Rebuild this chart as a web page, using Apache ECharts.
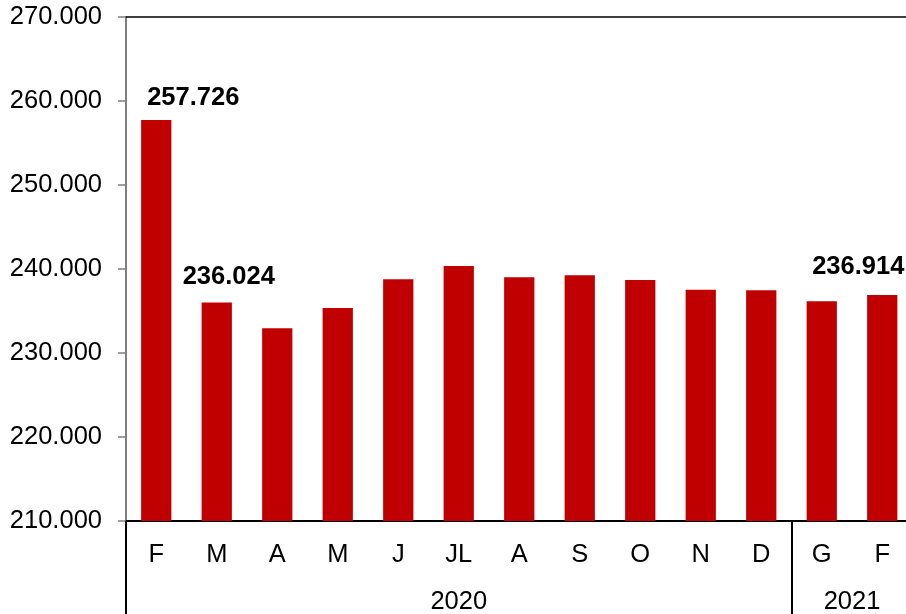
<!DOCTYPE html>
<html>
<head>
<meta charset="utf-8">
<script src="https://cdn.jsdelivr.net/npm/echarts@6/dist/echarts.min.js"></script>
<style>html,body{margin:0;padding:0;background:#fff}#c{width:906px;height:614px}</style>
</head>
<body>
<div id="c"></div>
<script>
const months = ['F','M','A','M','J','JL','A','S','O','N','D','G','F'];
const values = [257.726, 236.024, 232.94, 235.36, 238.77, 240.36, 239.01, 239.25, 238.69, 237.54, 237.46, 236.15, 236.914];
const yearLabels = {5.5: '2020', 12: '2021'};
const yearBoundaries = [0, 11];
const labeledIdx = {0: [37, -4], 1: [12, -7], 12: [-24, -10]};

const chart = echarts.init(document.getElementById('c'), null, {renderer: 'canvas'});
const font = 'Liberation Sans, Arial, sans-serif';
const data = values.map((v, i) => {
  const o = {value: v};
  if (labeledIdx[i]) {
    o.label = {show: true, position: 'top', offset: labeledIdx[i], formatter: (p) => p.value.toFixed(3),
      fontFamily: font, fontSize: 25.5, fontWeight: 'bold', color: '#000'};
  }
  return o;
});
chart.setOption({
  animation: false,
  grid: {left: 126, width: 786.5, top: 17, height: 504, containLabel: false, outerBoundsMode: 'none'},
  xAxis: [
    {type: 'category', data: months, position: 'bottom',
      axisLine: {show: true, lineStyle: {color: '#000', width: 2}},
      axisTick: {show: true, length: 93, interval: (i) => yearBoundaries.indexOf(i) >= 0, lineStyle: {color: '#000', width: 2}},
      axisLabel: {interval: 0, margin: 21, fontFamily: font, fontSize: 25.5, color: '#000'}},
    {type: 'value', min: 0, max: 13, interval: 0.5, position: 'bottom',
      axisLine: {show: false}, axisTick: {show: false}, splitLine: {show: false},
      axisLabel: {margin: 68, fontFamily: font, fontSize: 25.5, color: '#000', showMinLabel: true, showMaxLabel: true,
        formatter: (v) => yearLabels[v] || ''}},
    {type: 'value', min: 0, max: 13, position: 'top',
      axisLine: {show: true, lineStyle: {color: '#000', width: 1.5}}, axisTick: {show: false},
      axisLabel: {show: false}, splitLine: {show: false}}
  ],
  yAxis: {type: 'value', min: 210, max: 270, interval: 10,
    axisLine: {show: true, lineStyle: {color: '#808080', width: 2}},
    axisTick: {show: true, length: 8, lineStyle: {color: '#808080', width: 1.5}},
    splitLine: {show: false},
    axisLabel: {margin: 24, fontFamily: font, fontSize: 25.5, color: '#000', formatter: (v) => v.toFixed(3)}},
  series: [{type: 'bar', data: data, barWidth: '50%', itemStyle: {color: '#C00000'}, xAxisIndex: 0}]
});
</script>
</body>
</html>
